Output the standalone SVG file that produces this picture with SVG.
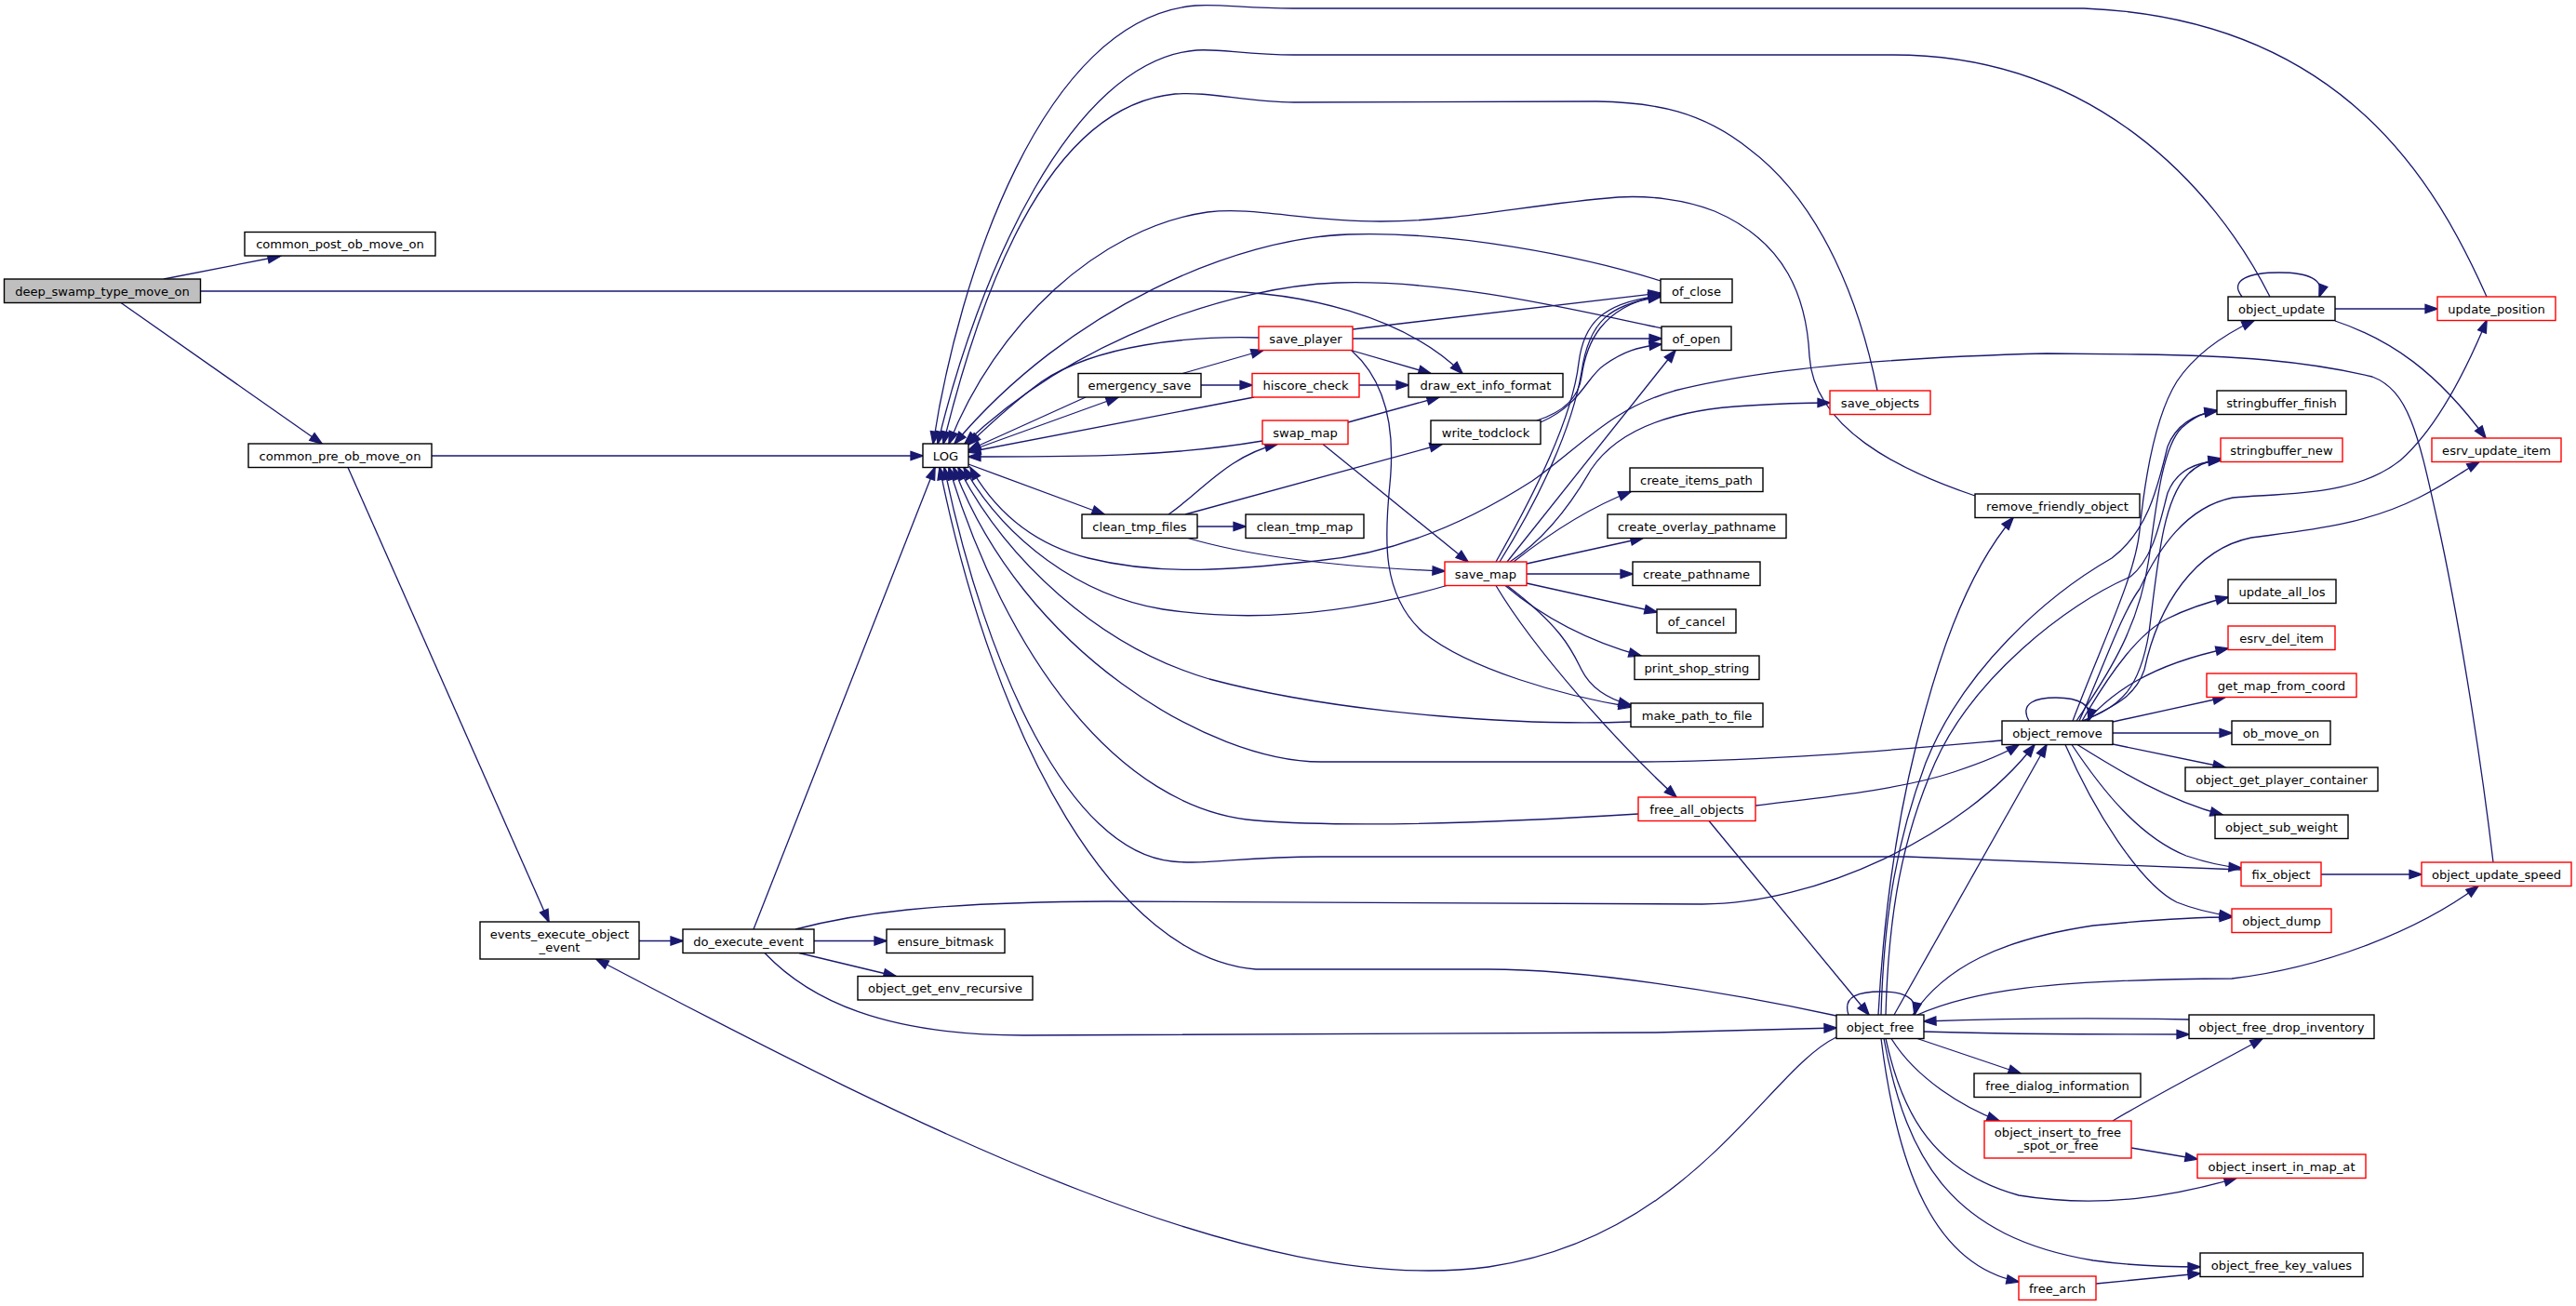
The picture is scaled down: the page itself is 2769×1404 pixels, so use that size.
<svg xmlns="http://www.w3.org/2000/svg" width="2769" height="1404" viewBox="0 0 2769 1404">
<style>
.n rect{fill:#ffffff;stroke:#000000;stroke-width:1.4}
.n.r rect{stroke:#ff0000}
.n.g rect{fill:#bfbfbf}
.n text{font-family:"DejaVu Sans","Liberation Sans",sans-serif;font-size:13.1px;text-anchor:middle;fill:#000000}
#edges path{fill:none;stroke:#191970;stroke-width:1.3;marker-end:url(#ah)}
</style>
<defs>
<marker id="ah" markerUnits="userSpaceOnUse" markerWidth="16" markerHeight="12" refX="13" refY="4.7" orient="auto" overflow="visible">
<path d="M0,0 L13.4,4.7 L0,9.4 z" fill="#191970" stroke="#191970" stroke-width="1.3"/>
</marker>
</defs>
<rect x="0" y="0" width="2769" height="1404" fill="#ffffff"/>
<g id="edges">
<path d="M176,300 L301,275.5"/>
<path d="M215.5,313 L1300,313 C1400,313 1510,340 1572,401.5"/>
<path d="M130,325.5 L346,477"/>
<path d="M464,490 L992,490"/>
<path d="M374,502.5 L590,991"/>
<path d="M687,1011.5 L734,1011.5"/>
<path d="M810,999 L1005,502.5"/>
<path d="M875,1011.5 L953,1011.5"/>
<path d="M859,1024.5 L963,1049.5"/>
<path d="M855,999 C920,982 1000,970 1190,969 L1830,972 C1950,972 2110,900 2187,800.5"/>
<path d="M822,1024.5 C870,1075 950,1113 1100,1113 L1780,1110 C1880,1108 1930,1106 1974,1105"/>
<path d="M1974,1115 C1900,1150 1820,1330 1600,1362 C1350,1395 1000,1220 641,1031"/>
<path d="M1047,483 L1202,427"/>
<path d="M1167,427 L1041,484"/>
<path d="M1271,401.5 L1358,376.5"/>
<path d="M1291,414 L1346,414"/>
<path d="M1353,363 C1280,361 1180,370 1120,410 C1090,432 1065,455 1041,478"/>
<path d="M1454,354 L1785,315"/>
<path d="M1454,364 L1786,364"/>
<path d="M1452,376.5 L1538,401.5"/>
<path d="M1453,377 C1490,410 1500,460 1494,520 C1488,580 1485,640 1530,680 C1580,720 1680,748 1753,760"/>
<path d="M1461,414 L1514,414"/>
<path d="M1348,427 L1041,486"/>
<path d="M1357,474 C1250,492 1150,491 1041,491"/>
<path d="M1449,454 L1547,427"/>
<path d="M1422,477.5 L1578,604"/>
<path d="M1256,553 C1290,530 1320,490 1373,477.5"/>
<path d="M1274,553 L1550,477.5"/>
<path d="M1287,566 L1339,566"/>
<path d="M1277,578.5 C1350,600 1450,610 1553,614"/>
<path d="M1041,499 L1187,553"/>
<path d="M1652,452 C1690,440 1698,420 1700,405 C1705,370 1720,330 1785,317"/>
<path d="M1656,454 C1700,435 1705,405 1725,392 C1745,378 1760,373 1786,370"/>
<path d="M1608,604 C1650,530 1690,450 1697,390 C1702,350 1720,325 1785,318"/>
<path d="M1612,604 C1655,535 1690,460 1700,400 C1708,345 1730,327 1785,319"/>
<path d="M1620,604 L1801,376.5"/>
<path d="M1623,604 C1660,580 1690,540 1710,505 C1740,460 1800,440 1880,436 C1910,434 1940,433 1967,433"/>
<path d="M1627,604 C1670,570 1710,545 1753,528.5"/>
<path d="M1641,606 L1766,578.5"/>
<path d="M1641,617 L1755,617"/>
<path d="M1641,627 L1781,658"/>
<path d="M1618,629.5 C1660,665 1710,690 1764,705"/>
<path d="M1620,629.5 C1680,675 1690,700 1700,720 C1710,740 1730,752 1753,758"/>
<path d="M1608,629.5 C1650,700 1740,800 1802,857"/>
<path d="M1555,629.5 C1450,660 1350,670 1250,655 C1160,640 1080,580 1036,502.5"/>
<path d="M1753,776 C1650,780 1450,770 1300,730 C1180,695 1080,600 1030,502.5"/>
<path d="M2152,796 C2050,805 1900,819 1750,819 L1420,819 C1300,819 1100,700 1025,502.5"/>
<path d="M1761,875 C1600,885 1450,890 1350,882 C1200,870 1080,700 1020,502.5"/>
<path d="M2409,935 L2050,921 L1420,921 C1330,921 1300,930 1260,926 C1150,915 1060,720 1015,502.5"/>
<path d="M1974,1092 C1850,1065 1700,1042 1600,1042 L1350,1042 C1200,1030 1070,800 1010,502.5"/>
<path d="M2673,319 C2620,200 2520,20 2240,9 L1390,9 C1340,9 1310,4 1285,6 C1120,20 1030,300 1003,477"/>
<path d="M2440,319 C2380,200 2250,59 2035,59 L1391,59 C1340,59 1310,52 1286,54 C1150,65 1050,300 1008,477"/>
<path d="M2018,420 C2000,330 1960,220 1880,160 C1830,120 1780,110 1716,109 L1391,110 C1340,110 1300,98 1263,101 C1120,115 1050,330 1014,477"/>
<path d="M2123,533 C2040,505 1950,460 1945,383 C1942,320 1920,260 1843,227 C1810,214 1770,210 1739,212 C1640,220 1570,238 1484,238 C1400,238 1350,222 1298,228 C1180,245 1070,350 1020,477"/>
<path d="M1785,302 C1700,275 1560,248 1449,252 C1330,256 1150,330 1026,477"/>
<path d="M1787,353 C1700,335 1560,300 1437,304 C1330,308 1160,360 1037,477"/>
<path d="M2680,927 C2665,800 2640,650 2620,560 C2600,470 2590,420 2550,405 C2480,388 2400,382 2300,381 L2200,380 C2000,385 1880,400 1800,420 C1730,440 1700,480 1647,517 C1580,560 1500,595 1415,603 C1330,612 1250,620 1170,600 C1110,585 1070,550 1043,502.5"/>
<path d="M2410,319 C2395,300 2420,293 2450,293 C2480,293 2500,300 2493,319"/>
<path d="M2510,332 L2620,332"/>
<path d="M2510,345 C2570,365 2620,400 2672,471"/>
<path d="M2228,775 C2260,690 2295,620 2300,570 C2305,520 2315,450 2340,410 C2360,380 2390,360 2423,344.5"/>
<path d="M2235,775 C2260,720 2280,660 2300,633 C2320,590 2350,545 2400,535 C2450,530 2530,535 2580,495 C2620,460 2650,400 2673,344.5"/>
<path d="M2240,775 C2270,760 2295,750 2305,720 C2320,650 2360,590 2420,578 C2480,570 2540,565 2600,535 C2630,520 2650,505 2665,496.5"/>
<path d="M2232,775 C2270,720 2300,670 2310,600 C2318,540 2325,480 2345,460 C2360,447 2370,443 2383,441"/>
<path d="M2238,775 C2280,760 2300,740 2310,680 C2320,600 2325,540 2350,512 C2360,500 2375,495 2387,493"/>
<path d="M2022,1091 C2025,980 2040,900 2070,820 C2110,720 2200,640 2270,600 C2310,570 2320,520 2330,480 C2340,455 2360,445 2383,442"/>
<path d="M2027,1091 C2030,980 2045,900 2080,820 C2120,730 2220,650 2290,620 C2315,600 2322,560 2330,530 C2340,505 2360,497 2387,495"/>
<path d="M2036,1091 L2200,800.5"/>
<path d="M2019,1091 C2025,980 2040,880 2060,800 C2080,720 2110,620 2164,556.5"/>
<path d="M1887,866 C1950,858 2040,850 2100,830 C2130,820 2155,810 2170,800.5"/>
<path d="M1837,882.5 L2009,1091"/>
<path d="M1987,1091 C1980,1070 2000,1066 2022,1066 C2045,1066 2062,1072 2058,1091"/>
<path d="M2181,775 C2170,755 2190,750 2210,750 C2235,750 2250,758 2245,775"/>
<path d="M2238,775 C2270,720 2300,680 2330,665 C2350,655 2370,648 2395,642"/>
<path d="M2243,775 C2270,745 2310,715 2395,697"/>
<path d="M2271,776 L2392,749.5"/>
<path d="M2271,788 L2399,788"/>
<path d="M2271,800 L2392,825"/>
<path d="M2233,800.5 C2280,830 2330,860 2389,876"/>
<path d="M2227,800.5 C2260,850 2300,900 2350,920 C2380,930 2395,932 2409,933"/>
<path d="M2220,800.5 C2250,870 2300,950 2340,970 C2365,980 2385,983 2399,985"/>
<path d="M2495,940 L2603,940"/>
<path d="M2056,1091 C2090,1040 2150,1010 2250,995 C2320,988 2370,986 2399,986"/>
<path d="M2061,1091 C2120,1065 2200,1053 2399,1052 C2500,1040 2600,1000 2664,952.5"/>
<path d="M2353,1096 C2250,1094 2150,1095 2068,1098"/>
<path d="M2068,1109 C2150,1112 2250,1112 2353,1112"/>
<path d="M2061,1116.5 L2172,1154"/>
<path d="M2033,1116.5 C2060,1160 2110,1190 2149,1205"/>
<path d="M2271,1205 C2330,1170 2390,1140 2432,1116.5"/>
<path d="M2291,1234 L2362,1246"/>
<path d="M2027,1116.5 C2045,1200 2080,1260 2170,1285 C2260,1300 2340,1285 2404,1266.5"/>
<path d="M2025,1116.5 C2050,1250 2100,1330 2250,1355 C2300,1362 2340,1362 2365,1362"/>
<path d="M2022,1116.5 C2040,1260 2080,1360 2170,1378"/>
<path d="M2253,1380 L2365,1369"/>
</g>
<g id="n_deep" class="n g"><rect x="4.5" y="300" width="211" height="25.5"/><text x="110" y="317.5">deep_swamp_type_move_on</text></g>
<g id="n_post" class="n"><rect x="263" y="249.5" width="205" height="25.5"/><text x="365.5" y="267">common_post_ob_move_on</text></g>
<g id="n_pre" class="n"><rect x="267" y="477" width="197" height="25.5"/><text x="365.5" y="494.5">common_pre_ob_move_on</text></g>
<g id="n_log" class="n"><rect x="992" y="477" width="49" height="25.5"/><text x="1016.5" y="494.5">LOG</text></g>
<g id="n_events" class="n"><rect x="516" y="991" width="171" height="40"/><text x="601.5" y="1008.5">events_execute_object</text><text x="601.5" y="1022.5">_event</text></g>
<g id="n_doexec" class="n"><rect x="734" y="999" width="141" height="25.5"/><text x="804.5" y="1016.5">do_execute_event</text></g>
<g id="n_ensure" class="n"><rect x="953" y="999" width="127" height="25.5"/><text x="1016.5" y="1016.5">ensure_bitmask</text></g>
<g id="n_getenv" class="n"><rect x="922" y="1049.5" width="188" height="25.5"/><text x="1016" y="1067">object_get_env_recursive</text></g>
<g id="n_emerg" class="n"><rect x="1159" y="401.5" width="132" height="25.5"/><text x="1225" y="419">emergency_save</text></g>
<g id="n_saveplayer" class="n r"><rect x="1353" y="351" width="101" height="25.5"/><text x="1403.5" y="368.5">save_player</text></g>
<g id="n_hiscore" class="n r"><rect x="1346" y="401.5" width="115" height="25.5"/><text x="1403.5" y="419">hiscore_check</text></g>
<g id="n_drawext" class="n"><rect x="1514" y="401.5" width="166" height="25.5"/><text x="1597" y="419">draw_ext_info_format</text></g>
<g id="n_swap" class="n r"><rect x="1357" y="452" width="92" height="25.5"/><text x="1403" y="469.5">swap_map</text></g>
<g id="n_todclock" class="n"><rect x="1538" y="452" width="118" height="25.5"/><text x="1597" y="469.5">write_todclock</text></g>
<g id="n_cleanfiles" class="n"><rect x="1163" y="553" width="124" height="25.5"/><text x="1225" y="570.5">clean_tmp_files</text></g>
<g id="n_cleanmap" class="n"><rect x="1339" y="553" width="127" height="25.5"/><text x="1402.5" y="570.5">clean_tmp_map</text></g>
<g id="n_savemap" class="n r"><rect x="1553" y="604" width="88" height="25.5"/><text x="1597" y="621.5">save_map</text></g>
<g id="n_ofclose" class="n"><rect x="1785" y="300" width="77" height="25.5"/><text x="1823.5" y="317.5">of_close</text></g>
<g id="n_ofopen" class="n"><rect x="1786" y="351" width="75" height="25.5"/><text x="1823.5" y="368.5">of_open</text></g>
<g id="n_items" class="n"><rect x="1752" y="503" width="143" height="25.5"/><text x="1823.5" y="520.5">create_items_path</text></g>
<g id="n_overlay" class="n"><rect x="1728" y="553" width="192" height="25.5"/><text x="1824" y="570.5">create_overlay_pathname</text></g>
<g id="n_pathname" class="n"><rect x="1755" y="604" width="137" height="25.5"/><text x="1823.5" y="621.5">create_pathname</text></g>
<g id="n_cancel" class="n"><rect x="1781" y="655" width="85" height="25.5"/><text x="1823.5" y="672.5">of_cancel</text></g>
<g id="n_shop" class="n"><rect x="1757" y="705" width="134" height="25.5"/><text x="1824" y="722.5">print_shop_string</text></g>
<g id="n_mkpath" class="n"><rect x="1753" y="756" width="142" height="25.5"/><text x="1824" y="773.5">make_path_to_file</text></g>
<g id="n_freeall" class="n r"><rect x="1761" y="857" width="126" height="25.5"/><text x="1824" y="874.5">free_all_objects</text></g>
<g id="n_saveobj" class="n r"><rect x="1967" y="420" width="108" height="25.5"/><text x="2021" y="437.5">save_objects</text></g>
<g id="n_rmfriend" class="n"><rect x="2123" y="531" width="177" height="25.5"/><text x="2211.5" y="548.5">remove_friendly_object</text></g>
<g id="n_objremove" class="n"><rect x="2152" y="775" width="119" height="25.5"/><text x="2211.5" y="792.5">object_remove</text></g>
<g id="n_objfree" class="n"><rect x="1974" y="1091" width="94" height="25.5"/><text x="2021" y="1108.5">object_free</text></g>
<g id="n_objupdate" class="n"><rect x="2395" y="319" width="115" height="25.5"/><text x="2452.5" y="336.5">object_update</text></g>
<g id="n_updpos" class="n r"><rect x="2620" y="319" width="127" height="25.5"/><text x="2683.5" y="336.5">update_position</text></g>
<g id="n_sbfinish" class="n"><rect x="2383" y="420" width="139" height="25.5"/><text x="2452.5" y="437.5">stringbuffer_finish</text></g>
<g id="n_sbnew" class="n r"><rect x="2387" y="471" width="131" height="25.5"/><text x="2452.5" y="488.5">stringbuffer_new</text></g>
<g id="n_esrvupd" class="n r"><rect x="2614" y="471" width="139" height="25.5"/><text x="2683.5" y="488.5">esrv_update_item</text></g>
<g id="n_updlos" class="n"><rect x="2395" y="623" width="116" height="25.5"/><text x="2453" y="640.5">update_all_los</text></g>
<g id="n_esrvdel" class="n r"><rect x="2395" y="673" width="115" height="25.5"/><text x="2452.5" y="690.5">esrv_del_item</text></g>
<g id="n_getmap" class="n r"><rect x="2372" y="724" width="161" height="25.5"/><text x="2452.5" y="741.5">get_map_from_coord</text></g>
<g id="n_obmove" class="n"><rect x="2399" y="775" width="106" height="25.5"/><text x="2452" y="792.5">ob_move_on</text></g>
<g id="n_playercont" class="n"><rect x="2349" y="825" width="207" height="25.5"/><text x="2452.5" y="842.5">object_get_player_container</text></g>
<g id="n_subweight" class="n"><rect x="2381" y="876" width="143" height="25.5"/><text x="2452.5" y="893.5">object_sub_weight</text></g>
<g id="n_fixobj" class="n r"><rect x="2409" y="927" width="86" height="25.5"/><text x="2452" y="944.5">fix_object</text></g>
<g id="n_updspeed" class="n r"><rect x="2603" y="927" width="161" height="25.5"/><text x="2683.5" y="944.5">object_update_speed</text></g>
<g id="n_dump" class="n r"><rect x="2399" y="977" width="107" height="25.5"/><text x="2452.5" y="994.5">object_dump</text></g>
<g id="n_dropinv" class="n"><rect x="2353" y="1091" width="199" height="25.5"/><text x="2452.5" y="1108.5">object_free_drop_inventory</text></g>
<g id="n_dialog" class="n"><rect x="2122" y="1154" width="179" height="25.5"/><text x="2211.5" y="1171.5">free_dialog_information</text></g>
<g id="n_inserttofree" class="n r"><rect x="2133" y="1205" width="158" height="40"/><text x="2212" y="1221.5">object_insert_to_free</text><text x="2212" y="1235.5">_spot_or_free</text></g>
<g id="n_insertmap" class="n r"><rect x="2362" y="1241" width="181" height="25.5"/><text x="2452.5" y="1258.5">object_insert_in_map_at</text></g>
<g id="n_keyvalues" class="n"><rect x="2365" y="1347" width="175" height="25.5"/><text x="2452.5" y="1364.5">object_free_key_values</text></g>
<g id="n_freearch" class="n r"><rect x="2170" y="1372" width="83" height="25.5"/><text x="2211.5" y="1389.5">free_arch</text></g>
</svg>
